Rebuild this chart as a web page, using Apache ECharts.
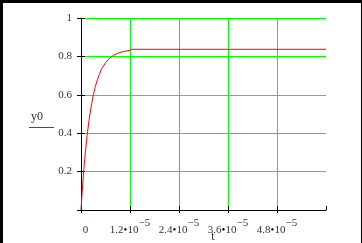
<!DOCTYPE html>
<html><head><meta charset="utf-8">
<script src="https://cdn.jsdelivr.net/npm/echarts@6/dist/echarts.min.js"></script>
<style>
html,body{margin:0;padding:0;background:#fff;}
#c{position:absolute;left:0;top:0;width:362px;height:243px;}
.b{position:absolute;background:#000;}
</style></head>
<body>
<div id="c"></div>
<div class="b" style="left:0;top:0;width:362px;height:3px"></div>
<div class="b" style="left:0;top:0;width:3px;height:243px"></div>
<div class="b" style="right:0;top:0;width:1px;height:243px"></div>
<script>
// time in seconds
const tValues = [0, 2.5e-7, 5e-7, 7.5e-7, 1e-6, 1.5e-6, 2e-6, 2.5e-6, 3e-6, 3.5e-6, 4e-6, 5e-6, 6e-6, 7e-6, 8e-6, 9e-6, 1e-5, 1.1e-5, 1.2e-5, 1.25e-5, 6e-5];
const y0Values = [0, 0.083, 0.157, 0.226, 0.286, 0.389, 0.473, 0.541, 0.597, 0.642, 0.678, 0.733, 0.767, 0.790, 0.806, 0.816, 0.823, 0.828, 0.831, 0.837, 0.837];
const xTickMantissa = ['0', '1.2', '2.4', '3.6', '4.8'];
const xTickExponent = '−5';
const yTickLabels = ['', '0.2', '0.4', '0.6', '0.8', '1'];
const xName = 't';
const yName = 'y0';

const font = 'Liberation Serif';
const txt = '#333';
const xMin = 0, xMax = 6e-5, xInt = 1.2e-5;

const chart = echarts.init(document.getElementById('c'), null, {renderer: 'canvas'});
const baseX = {
  type: 'value', min: xMin, max: xMax, interval: xInt, position: 'bottom'
};
const baseY = {
  type: 'value', min: 0, max: 1, interval: 0.2, position: 'left'
};
chart.setOption({
  animation: false,
  backgroundColor: '#fff',
  grid: {left: 81, top: 18, right: 36, bottom: 33, containLabel: false, outerBoundsMode: 'none'},
  graphic: [{
    type: 'line', silent: true, z: 10,
    shape: {x1: 29, y1: 127.5, x2: 54, y2: 127.5},
    style: {stroke: '#ff0000', lineWidth: 1}
  }],
  xAxis: [
    Object.assign({}, baseX, {
      name: xName, nameLocation: 'middle', nameGap: 21, nameMoveOverlap: false,
      nameTextStyle: {fontFamily: font, fontSize: 12, color: txt, padding: [0, 0, 0, 19]},
      axisLine: {show: true, lineStyle: {color: '#000', width: 1}},
      axisTick: {show: true, inside: false, length: 3, lineStyle: {color: '#000'}},
      splitLine: {show: true, showMinLine: false, showMaxLine: false, lineStyle: {color: '#00ff00', width: 1}},
      axisLabel: {
        show: true, margin: 8, showMaxLabel: false, hideOverlap: false,
        formatter: function (v) {
          const i = Math.round(v / xInt);
          if (i === 0) return '{p| }{a|' + xTickMantissa[0] + '}';
          return '{a|' + xTickMantissa[i] + '}{d|•}{a|10}{s|' + xTickExponent + '}';
        },
        rich: {
          a: {fontFamily: font, fontSize: 11, color: txt},
          d: {fontFamily: font, fontSize: 11, color: '#000'},
          s: {fontFamily: font, fontSize: 11, color: txt, padding: [0, 0, 13, 0]},
          p: {fontFamily: font, fontSize: 11, width: 9, padding: [0, 0, 13, 0]}
        }
      }
    }),
    Object.assign({}, baseX, {
      axisLine: {show: false},
      axisTick: {show: true, inside: true, length: 4, lineStyle: {color: '#000'}},
      axisLabel: {show: false}, splitLine: {show: false}
    })
  ],
  yAxis: [
    Object.assign({}, baseY, {
      name: '{n|' + yName + '}', nameLocation: 'middle', nameGap: 28, nameRotate: 0, nameMoveOverlap: false,
      nameTextStyle: {
        padding: [5, 0, 0, 0],
        rich: {
          n: {fontFamily: font, fontSize: 12, color: txt, lineHeight: 21, align: 'center', padding: [0, 10, 0, 0]}
        }
      },
      axisLine: {show: true, lineStyle: {color: '#000', width: 1}},
      axisTick: {show: true, inside: false, length: 4, lineStyle: {color: '#000'}},
      splitLine: {show: true, showMinLine: false, showMaxLine: true, lineStyle: {color: '#00ff00', width: 1}},
      axisLabel: {
        show: true, margin: 9, fontFamily: font, fontSize: 11, color: txt,
        formatter: function (v) { return yTickLabels[Math.round(v / 0.2)]; }
      }
    }),
    Object.assign({}, baseY, {
      axisLine: {show: false},
      axisTick: {show: true, inside: true, length: 4, lineStyle: {color: '#000'}},
      axisLabel: {show: false}, splitLine: {show: false}
    })
  ],
  series: [{
    type: 'line', name: yName, xAxisIndex: 0, yAxisIndex: 0,
    data: tValues.map((t, i) => [t, y0Values[i]]),
    showSymbol: false, symbol: 'none', color: '#ff0000',
    lineStyle: {color: '#ff0000', width: 1}, z: 5
  }]
});
</script>
</body></html>
